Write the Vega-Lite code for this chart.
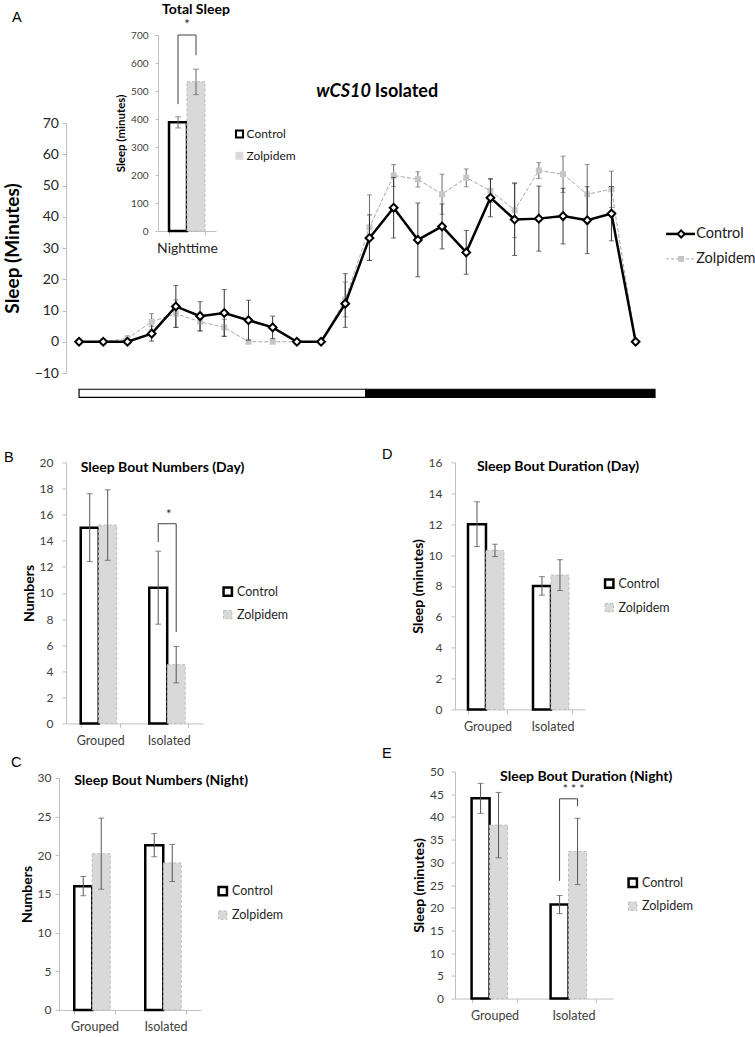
{
 "$schema": "https://vega.github.io/schema/vega-lite/v6.json",
 "background": "white",
 "padding": {"left": 3, "top": 2, "right": 0, "bottom": 0},
 "config": {
  "view": {"stroke": null},
  "font": "Lato",
  "axis": {"grid": false, "labelFont": "Lato", "titleFont": "Lato", "labelColor": "#404040", "titleColor": "#000000", "domainColor": "#bfbfbf", "tickColor": "#bfbfbf", "titleFontWeight": "bold", "labelOverlap": false},
  "legend": {"labelFont": "Lato"},
  "title": {"font": "Liberation Sans", "fontWeight": "normal", "fontSize": 14.5, "color": "#000000", "anchor": "start", "frame": "group", "baseline": "alphabetic"}
 },
 "datasets": {
  "timeline": [
   {"t": 0, "group": "Control", "sleep": 0, "lo": 0, "hi": 0},
   {"t": 1, "group": "Control", "sleep": 0, "lo": 0, "hi": 0},
   {"t": 2, "group": "Control", "sleep": 0, "lo": 0, "hi": 0},
   {"t": 3, "group": "Control", "sleep": 2.6, "lo": 0.2, "hi": 5.0},
   {"t": 4, "group": "Control", "sleep": 11.3, "lo": 4.6, "hi": 18.0},
   {"t": 5, "group": "Control", "sleep": 8.2, "lo": 3.5, "hi": 12.8},
   {"t": 6, "group": "Control", "sleep": 9.2, "lo": 1.7, "hi": 16.7},
   {"t": 7, "group": "Control", "sleep": 6.9, "lo": 0.5, "hi": 13.3},
   {"t": 8, "group": "Control", "sleep": 4.6, "lo": 1.0, "hi": 8.2},
   {"t": 9, "group": "Control", "sleep": 0, "lo": 0, "hi": 0},
   {"t": 10, "group": "Control", "sleep": 0, "lo": 0, "hi": 0},
   {"t": 11, "group": "Control", "sleep": 12.2, "lo": 4.6, "hi": 21.8},
   {"t": 12, "group": "Control", "sleep": 33.2, "lo": 26.0, "hi": 40.6},
   {"t": 13, "group": "Control", "sleep": 42.9, "lo": 33.2, "hi": 52.6},
   {"t": 14, "group": "Control", "sleep": 32.6, "lo": 20.8, "hi": 44.4},
   {"t": 15, "group": "Control", "sleep": 36.9, "lo": 29.7, "hi": 44.1},
   {"t": 16, "group": "Control", "sleep": 28.6, "lo": 21.6, "hi": 35.6},
   {"t": 17, "group": "Control", "sleep": 46.1, "lo": 40.0, "hi": 52.2},
   {"t": 18, "group": "Control", "sleep": 39.1, "lo": 27.6, "hi": 50.6},
   {"t": 19, "group": "Control", "sleep": 39.4, "lo": 29.0, "hi": 49.8},
   {"t": 20, "group": "Control", "sleep": 40.2, "lo": 31.3, "hi": 49.1},
   {"t": 21, "group": "Control", "sleep": 38.9, "lo": 28.2, "hi": 49.6},
   {"t": 22, "group": "Control", "sleep": 41.0, "lo": 32.3, "hi": 49.7},
   {"t": 23, "group": "Control", "sleep": 0, "lo": 0, "hi": 0},
   {"t": 0, "group": "Zolpidem", "sleep": 0, "lo": 0, "hi": 0},
   {"t": 1, "group": "Zolpidem", "sleep": 0, "lo": 0, "hi": 0},
   {"t": 2, "group": "Zolpidem", "sleep": 1.0, "lo": 0.1, "hi": 1.9},
   {"t": 3, "group": "Zolpidem", "sleep": 6.4, "lo": 3.8, "hi": 9.0},
   {"t": 4, "group": "Zolpidem", "sleep": 9.0, "lo": 4.6, "hi": 13.4},
   {"t": 5, "group": "Zolpidem", "sleep": 6.4, "lo": 3.4, "hi": 9.4},
   {"t": 6, "group": "Zolpidem", "sleep": 4.6, "lo": 1.8, "hi": 7.2},
   {"t": 7, "group": "Zolpidem", "sleep": 0, "lo": 0, "hi": 0},
   {"t": 8, "group": "Zolpidem", "sleep": 0, "lo": 0, "hi": 0},
   {"t": 9, "group": "Zolpidem", "sleep": 0, "lo": 0, "hi": 0},
   {"t": 10, "group": "Zolpidem", "sleep": 0, "lo": 0, "hi": 0},
   {"t": 11, "group": "Zolpidem", "sleep": 13.5, "lo": 8.0, "hi": 19.1},
   {"t": 12, "group": "Zolpidem", "sleep": 36.6, "lo": 26.1, "hi": 47.0},
   {"t": 13, "group": "Zolpidem", "sleep": 53.2, "lo": 49.7, "hi": 56.7},
   {"t": 14, "group": "Zolpidem", "sleep": 52.0, "lo": 49.5, "hi": 54.4},
   {"t": 15, "group": "Zolpidem", "sleep": 47.2, "lo": 40.8, "hi": 53.6},
   {"t": 16, "group": "Zolpidem", "sleep": 52.5, "lo": 49.6, "hi": 55.3},
   {"t": 17, "group": "Zolpidem", "sleep": 48.3, "lo": 44.6, "hi": 52.0},
   {"t": 18, "group": "Zolpidem", "sleep": 42.1, "lo": 33.3, "hi": 50.9},
   {"t": 19, "group": "Zolpidem", "sleep": 54.8, "lo": 52.3, "hi": 57.3},
   {"t": 20, "group": "Zolpidem", "sleep": 53.6, "lo": 47.8, "hi": 59.4},
   {"t": 21, "group": "Zolpidem", "sleep": 47.2, "lo": 37.7, "hi": 56.7},
   {"t": 22, "group": "Zolpidem", "sleep": 48.8, "lo": 43.0, "hi": 54.6},
   {"t": 23, "group": "Zolpidem", "sleep": 0, "lo": 0, "hi": 0}
  ]
 },
 "resolve": {"scale": {"fill": "independent", "stroke": "independent", "strokeDash": "independent", "strokeWidth": "independent"}, "legend": {"fill": "independent", "stroke": "independent", "strokeDash": "independent", "strokeWidth": "independent"}},
 "vconcat": [
  {
   "width": 589, "height": 338,
   "title": {"text": "A", "dx": -54, "offset": -22.4},
   "resolve": {"scale": {"x": "independent", "y": "independent"}, "axis": {"x": "independent", "y": "independent"}},
   "layer": [
    {
     "data": {"name": "timeline"},
     "layer": [
      {
       "transform": [{"filter": "datum.group === 'Zolpidem'"}],
       "mark": {"type": "rule", "color": "#6b6b6b", "strokeWidth": 1},
       "encoding": {
        "x": {"field": "t", "type": "quantitative", "scale": {"domain": [-0.54, 23.8], "nice": false, "zero": false}, "axis": null},
        "y": {"field": "lo", "type": "quantitative", "scale": {"domain": [-10, 70], "range": [338, 88], "nice": false, "zero": false},
              "axis": {"orient": "left", "values": [-10, 0, 10, 20, 30, 40, 50, 60, 70], "format": "d", "tickCount": 30, "title": "Sleep (Minutes)", "titleFontSize": 19, "titlePadding": 12, "labelFontSize": 14, "labelPadding": 3.5, "tickSize": 4, "labelColor": "#262626", "labelOverlap": false}},
        "y2": {"field": "hi"}
       }
      },
      {
       "transform": [{"filter": "datum.group === 'Zolpidem'"}, {"fold": ["lo", "hi"], "as": ["end", "ev"]}],
       "mark": {"type": "tick", "orient": "horizontal", "size": 5, "thickness": 1, "color": "#6b6b6b"},
       "encoding": {"x": {"field": "t", "type": "quantitative"}, "y": {"field": "ev", "type": "quantitative"}}
      },
      {
       "transform": [{"filter": "datum.group === 'Zolpidem'"}],
       "mark": {"type": "line", "color": "#a8a8a8", "strokeWidth": 1, "strokeDash": [4, 2]},
       "encoding": {"x": {"field": "t", "type": "quantitative"}, "y": {"field": "sleep", "type": "quantitative"}}
      },
      {
       "transform": [{"filter": "datum.group === 'Zolpidem'"}],
       "mark": {"type": "point", "shape": "square", "filled": true, "fill": "#c6c6c6", "size": 36, "opacity": 1, "strokeWidth": 0},
       "encoding": {"x": {"field": "t", "type": "quantitative"}, "y": {"field": "sleep", "type": "quantitative"}}
      },
      {
       "transform": [{"filter": "datum.group === 'Control'"}],
       "mark": {"type": "rule", "color": "#333333", "strokeWidth": 1},
       "encoding": {"x": {"field": "t", "type": "quantitative"}, "y": {"field": "lo", "type": "quantitative"}, "y2": {"field": "hi"}}
      },
      {
       "transform": [{"filter": "datum.group === 'Control'"}, {"fold": ["lo", "hi"], "as": ["end", "ev"]}],
       "mark": {"type": "tick", "orient": "horizontal", "size": 5, "thickness": 1, "color": "#333333"},
       "encoding": {"x": {"field": "t", "type": "quantitative"}, "y": {"field": "ev", "type": "quantitative"}}
      },
      {
       "transform": [{"filter": "datum.group === 'Control'"}],
       "mark": {"type": "line", "color": "#000000", "strokeWidth": 2.5},
       "encoding": {"x": {"field": "t", "type": "quantitative"}, "y": {"field": "sleep", "type": "quantitative"}}
      },
      {
       "transform": [{"filter": "datum.group === 'Control'"}],
       "mark": {"type": "point", "shape": "diamond", "filled": true, "fill": "#ffffff", "stroke": "#000000", "strokeWidth": 2, "size": 60, "opacity": 1},
       "encoding": {"x": {"field": "t", "type": "quantitative"}, "y": {"field": "sleep", "type": "quantitative"}}
      },
      {
       "data": {"values": [{"phase": "Light", "start": 0, "end": 11.85}]},
       "mark": {"type": "rect", "fill": "#ffffff", "stroke": "#000000", "strokeWidth": 1.2},
       "encoding": {"x": {"field": "start", "type": "quantitative"}, "x2": {"field": "end"}, "y": {"datum": -15.2, "type": "quantitative"}, "y2": {"datum": -17.8}}
      },
      {
       "data": {"values": [{"phase": "Dark", "start": 11.85, "end": 23.8}]},
       "mark": {"type": "rect", "fill": "#000000", "stroke": "#000000", "strokeWidth": 1.2},
       "encoding": {"x": {"field": "start", "type": "quantitative"}, "x2": {"field": "end"}, "y": {"datum": -15.2, "type": "quantitative"}, "y2": {"datum": -17.8}}
      },
      {
       "data": {"values": [{}]},
       "mark": {"type": "text", "text": "wCS10", "font": "Lato", "fontSize": 18, "fontWeight": "bold", "fontStyle": "italic", "align": "right", "baseline": "middle", "dx": -1, "color": "#000000"},
       "encoding": {"x": {"datum": 12.1, "type": "quantitative"}, "y": {"datum": 80, "type": "quantitative"}}
      },
      {
       "data": {"values": [{}]},
       "mark": {"type": "text", "text": "Isolated", "font": "Lato", "fontSize": 18, "fontWeight": "bold", "align": "left", "baseline": "middle", "dx": 3, "color": "#000000"},
       "encoding": {"x": {"datum": 12.1, "type": "quantitative"}, "y": {"datum": 80, "type": "quantitative"}}
      },
      {
       "data": {"values": [{}]},
       "mark": {"type": "rule", "color": "#000000", "strokeWidth": 2.5},
       "encoding": {"x": {"datum": 24.26, "type": "quantitative"}, "x2": {"datum": 25.45}, "y": {"datum": 34.5, "type": "quantitative"}}
      },
      {
       "data": {"values": [{}]},
       "mark": {"type": "point", "shape": "diamond", "filled": true, "fill": "#ffffff", "stroke": "#000000", "strokeWidth": 2, "size": 50, "opacity": 1},
       "encoding": {"x": {"datum": 24.88, "type": "quantitative"}, "y": {"datum": 34.5, "type": "quantitative"}}
      },
      {
       "data": {"values": [{}]},
       "mark": {"type": "text", "text": "Control", "font": "Lato", "fontSize": 14.5, "align": "left", "baseline": "middle", "color": "#1a1a1a"},
       "encoding": {"x": {"datum": 25.5, "type": "quantitative"}, "y": {"datum": 34.5, "type": "quantitative"}}
      },
      {
       "data": {"values": [{}]},
       "mark": {"type": "rule", "color": "#a8a8a8", "strokeWidth": 1, "strokeDash": [3, 2]},
       "encoding": {"x": {"datum": 24.26, "type": "quantitative"}, "x2": {"datum": 25.45}, "y": {"datum": 26.5, "type": "quantitative"}}
      },
      {
       "data": {"values": [{}]},
       "mark": {"type": "point", "shape": "square", "filled": true, "fill": "#c6c6c6", "size": 36, "opacity": 1, "strokeWidth": 0},
       "encoding": {"x": {"datum": 24.88, "type": "quantitative"}, "y": {"datum": 26.5, "type": "quantitative"}}
      },
      {
       "data": {"values": [{}]},
       "mark": {"type": "text", "text": "Zolpidem", "font": "Lato", "fontSize": 14.5, "align": "left", "baseline": "middle", "color": "#1a1a1a"},
       "encoding": {"x": {"datum": 25.5, "type": "quantitative"}, "y": {"datum": 26.5, "type": "quantitative"}}
      },
      {
       "data": {"values": [{}]},
       "mark": {"type": "point", "shape": "square", "filled": true, "fill": "#ffffff", "stroke": "#000000", "strokeWidth": 2, "size": 50, "opacity": 1},
       "encoding": {"x": {"datum": 6.63, "type": "quantitative"}, "y": {"datum": 66.5, "type": "quantitative"}}
      },
      {
       "data": {"values": [{}]},
       "mark": {"type": "point", "shape": "square", "filled": true, "fill": "#d9d9d9", "size": 64, "opacity": 1, "strokeWidth": 0},
       "encoding": {"x": {"datum": 6.63, "type": "quantitative"}, "y": {"datum": 59.5, "type": "quantitative"}}
      },
      {
       "data": {"values": [{}]},
       "mark": {"type": "text", "text": "Control", "font": "Lato", "fontSize": 12, "align": "left", "baseline": "middle", "color": "#1a1a1a"},
       "encoding": {"x": {"datum": 6.92, "type": "quantitative"}, "y": {"datum": 66.5, "type": "quantitative"}}
      },
      {
       "data": {"values": [{}]},
       "mark": {"type": "text", "text": "Zolpidem", "font": "Lato", "fontSize": 12, "align": "left", "baseline": "middle", "color": "#1a1a1a"},
       "encoding": {"x": {"datum": 6.92, "type": "quantitative"}, "y": {"datum": 59.5, "type": "quantitative"}}
      },
      {
       "data": {"values": [{}]},
       "mark": {"type": "text", "text": "Total Sleep", "font": "Lato", "fontSize": 14, "fontWeight": "bold", "align": "center", "baseline": "middle", "color": "#000000"},
       "encoding": {"x": {"datum": 4.83, "type": "quantitative"}, "y": {"datum": 106.2, "type": "quantitative"}}
      }
     ]
    },
    {
     "data": {"values": [
      {"period": "Nighttime", "group": "Control", "sleep": 388, "lo": 368, "hi": 408},
      {"period": "Nighttime", "group": "Zolpidem", "sleep": 533, "lo": 487, "hi": 578}
     ]},
     "layer": [
      {
       "transform": [{"filter": "datum.group === 'Control'"}],
       "mark": {"type": "bar", "fill": "#ffffff", "stroke": "#000000", "strokeWidth": 2.5},
       "encoding": {
        "x": {"field": "period", "type": "nominal", "scale": {"range": [92, 150], "paddingInner": 0.38, "paddingOuter": 0.19},
              "axis": {"orient": "bottom", "offset": -142, "title": null, "tickBand": "extent", "labelAngle": 0, "labelFontSize": 14, "labelPadding": 6, "tickSize": 4, "labelColor": "#262626"}},
        "xOffset": {"field": "group", "type": "nominal", "scale": {"domain": ["Control", "Zolpidem"]}},
        "y": {"field": "sleep", "type": "quantitative", "scale": {"domain": [0, 700], "range": [196, 0], "nice": false},
              "axis": {"orient": "left", "offset": -92, "values": [0, 100, 200, 300, 400, 500, 600, 700], "format": "d", "tickCount": 30, "title": "Sleep (minutes)", "titleFontSize": 11.5, "titlePadding": 4, "labelFontSize": 10, "labelPadding": 7, "tickSize": 3, "labelOverlap": false}}
       }
      },
      {
       "transform": [{"filter": "datum.group === 'Zolpidem'"}],
       "mark": {"type": "bar", "fill": "#d9d9d9", "stroke": "#bdbdbd", "strokeWidth": 1, "strokeDash": [3, 2]},
       "encoding": {
        "x": {"field": "period", "type": "nominal"},
        "xOffset": {"field": "group", "type": "nominal"},
        "y": {"field": "sleep", "type": "quantitative"}
       }
      },
      {
       "mark": {"type": "rule", "color": "#666666", "strokeWidth": 1},
       "encoding": {
        "x": {"field": "period", "type": "nominal"},
        "xOffset": {"field": "group", "type": "nominal"},
        "y": {"field": "lo", "type": "quantitative"}, "y2": {"field": "hi"}
       }
      },
      {
       "transform": [{"fold": ["lo", "hi"], "as": ["end", "ev"]}],
       "mark": {"type": "tick", "orient": "horizontal", "size": 6, "thickness": 1, "color": "#666666"},
       "encoding": {
        "x": {"field": "period", "type": "nominal"},
        "xOffset": {"field": "group", "type": "nominal"},
        "y": {"field": "ev", "type": "quantitative"}
       }
      },
      {
       "data": {"values": [
        {"period": "Nighttime", "group": "Control", "y": 453, "k": 1},
        {"period": "Nighttime", "group": "Control", "y": 700, "k": 2},
        {"period": "Nighttime", "group": "Zolpidem", "y": 700, "k": 3},
        {"period": "Nighttime", "group": "Zolpidem", "y": 628, "k": 4}
       ]},
       "mark": {"type": "line", "color": "#404040", "strokeWidth": 1},
       "encoding": {
        "x": {"field": "period", "type": "nominal"},
        "xOffset": {"field": "group", "type": "nominal"},
        "y": {"field": "y", "type": "quantitative"},
        "order": {"field": "k", "type": "quantitative"}
       }
      },
      {
       "data": {"values": [{"period": "Nighttime"}]},
       "mark": {"type": "text", "text": "*", "font": "Lato", "fontSize": 13, "baseline": "middle", "color": "#262626"},
       "encoding": {
        "x": {"field": "period", "type": "nominal"},
        "y": {"datum": 735, "type": "quantitative"}
       }
      }
     ]
    }
   ]
  },
  {
   "resolve": {"scale": {"fill": "independent", "stroke": "independent", "strokeDash": "independent", "strokeWidth": "independent"}, "legend": {"fill": "independent", "stroke": "independent", "strokeDash": "independent", "strokeWidth": "independent"}},
   "hconcat": [
    {
     "columns": 1,
     "align": "none",
     "resolve": {"scale": {"fill": "independent", "stroke": "independent", "strokeDash": "independent", "strokeWidth": "independent"}, "legend": {"fill": "independent", "stroke": "independent", "strokeDash": "independent", "strokeWidth": "independent"}},
     "concat": [
      {
       "width": 137, "height": 261,
       "title": {"text": "B", "dx": -62, "offset": -8.65},
       "data": {"values": [
        {"cond": "Grouped", "group": "Control", "v": 15.0, "lo": 12.4, "hi": 17.6},
        {"cond": "Grouped", "group": "Zolpidem", "v": 15.2, "lo": 12.5, "hi": 17.9},
        {"cond": "Isolated", "group": "Control", "v": 10.4, "lo": 7.6, "hi": 13.2},
        {"cond": "Isolated", "group": "Zolpidem", "v": 4.5, "lo": 3.1, "hi": 5.9}
       ]},
       "layer": [
        {
         "mark": {"type": "bar"},
         "encoding": {
          "x": {"field": "cond", "type": "nominal", "sort": ["Grouped", "Isolated"], "scale": {"paddingInner": 0.43, "paddingOuter": 0.215}, "axis": {"title": null, "tickBand": "extent", "labelAngle": 0, "labelFontSize": 12.5, "labelPadding": 7, "tickSize": 4}},
          "xOffset": {"field": "group", "type": "nominal", "scale": {"domain": ["Control", "Zolpidem"]}},
          "y": {"field": "v", "type": "quantitative", "scale": {"domain": [0, 20], "nice": false}, "axis": {"title": "Numbers", "values": [0, 2, 4, 6, 8, 10, 12, 14, 16, 18, 20], "format": "d", "tickCount": 30, "labelOverlap": false, "labelFontSize": 12, "labelPadding": 9, "tickSize": 4, "titleFontSize": 14, "titlePadding": 3}},
          "fill": {"field": "group", "type": "nominal", "scale": {"domain": ["Control", "Zolpidem"], "range": ["#ffffff", "#d9d9d9"]}, "legend": {"orient": "none", "legendX": 155.5, "legendY": 123, "title": null, "symbolType": "square", "symbolSize": 70, "labelFontSize": 12.5, "labelColor": "#262626", "rowPadding": 7, "labelOffset": 3, "padding": 0}},
          "stroke": {"field": "group", "type": "nominal", "scale": {"domain": ["Control", "Zolpidem"], "range": ["#000000", "#bdbdbd"]}, "legend": {"orient": "none", "legendX": 155.5, "legendY": 123, "title": null, "symbolType": "square", "symbolSize": 70, "labelFontSize": 12.5, "labelColor": "#262626", "rowPadding": 7, "labelOffset": 3, "padding": 0}},
          "strokeDash": {"field": "group", "type": "nominal", "scale": {"domain": ["Control", "Zolpidem"], "range": [[1, 0], [3, 2]]}, "legend": {"orient": "none", "legendX": 155.5, "legendY": 123, "title": null, "symbolType": "square", "symbolSize": 70, "labelFontSize": 12.5, "labelColor": "#262626", "rowPadding": 7, "labelOffset": 3, "padding": 0}},
          "strokeWidth": {"field": "group", "type": "nominal", "scale": {"domain": ["Control", "Zolpidem"], "range": [2.5, 1]}, "legend": {"orient": "none", "legendX": 155.5, "legendY": 123, "title": null, "symbolType": "square", "symbolSize": 70, "labelFontSize": 12.5, "labelColor": "#262626", "rowPadding": 7, "labelOffset": 3, "padding": 0}}
         }
        },
        {
         "mark": {"type": "rule", "color": "#555555", "strokeWidth": 1},
         "encoding": {"x": {"field": "cond", "type": "nominal"}, "xOffset": {"field": "group", "type": "nominal"}, "y": {"field": "lo", "type": "quantitative"}, "y2": {"field": "hi"}}
        },
        {
         "transform": [{"fold": ["lo", "hi"], "as": ["end", "ev"]}],
         "mark": {"type": "tick", "orient": "horizontal", "size": 6, "thickness": 1, "color": "#555555"},
         "encoding": {"x": {"field": "cond", "type": "nominal"}, "xOffset": {"field": "group", "type": "nominal"}, "y": {"field": "ev", "type": "quantitative"}}
        },
        {
         "data": {"values": [{}]},
         "mark": {"type": "text", "text": "Sleep Bout Numbers (Day)", "align": "left", "baseline": "middle", "font": "Lato", "fontSize": 14, "fontWeight": "bold", "color": "#000000"},
         "encoding": {"x": {"datum": "Grouped", "type": "nominal", "bandPosition": 0}, "y": {"datum": 19.54, "type": "quantitative"}}
        },
        {
         "data": {"values": [
          {"cond": "Isolated", "group": "Control", "y": 13.9, "k": 1},
          {"cond": "Isolated", "group": "Control", "y": 15.3, "k": 2},
          {"cond": "Isolated", "group": "Zolpidem", "y": 15.3, "k": 3},
          {"cond": "Isolated", "group": "Zolpidem", "y": 7.0, "k": 4}
         ]},
         "mark": {"type": "line", "color": "#404040", "strokeWidth": 1},
         "encoding": {"x": {"field": "cond", "type": "nominal"}, "xOffset": {"field": "group", "type": "nominal"}, "y": {"field": "y", "type": "quantitative"}, "order": {"field": "k", "type": "quantitative"}}
        },
        {
         "data": {"values": [{"cond": "Isolated"}]},
         "mark": {"type": "text", "text": "*", "font": "Lato", "fontSize": 13, "baseline": "middle", "color": "#262626"},
         "encoding": {"x": {"field": "cond", "type": "nominal"}, "y": {"datum": 16.0, "type": "quantitative"}}
        }
       ]
      },
      {
       "width": 142, "height": 232,
       "title": {"text": "C", "dx": -55, "offset": 1.35},
       "data": {"values": [
        {"cond": "Grouped", "group": "Control", "v": 16.0, "lo": 14.75, "hi": 17.25},
        {"cond": "Grouped", "group": "Zolpidem", "v": 20.2, "lo": 15.6, "hi": 24.8},
        {"cond": "Isolated", "group": "Control", "v": 21.3, "lo": 19.8, "hi": 22.8},
        {"cond": "Isolated", "group": "Zolpidem", "v": 19.0, "lo": 16.6, "hi": 21.4}
       ]},
       "layer": [
        {
         "mark": {"type": "bar"},
         "encoding": {
          "x": {"field": "cond", "type": "nominal", "sort": ["Grouped", "Isolated"], "scale": {"range": [-7, 135], "paddingInner": 0.43, "paddingOuter": 0.215}, "axis": {"title": null, "tickBand": "extent", "labelAngle": 0, "labelFontSize": 12.5, "labelPadding": 7, "tickSize": 4}},
          "xOffset": {"field": "group", "type": "nominal", "scale": {"domain": ["Control", "Zolpidem"]}},
          "y": {"field": "v", "type": "quantitative", "scale": {"domain": [0, 30], "nice": false}, "axis": {"title": "Numbers", "offset": 7, "values": [0, 5, 10, 15, 20, 25, 30], "format": "d", "tickCount": 30, "labelOverlap": false, "labelFontSize": 12, "labelPadding": 4, "tickSize": 4, "titleFontSize": 14, "titlePadding": 3}},
          "fill": {"field": "group", "type": "nominal", "scale": {"domain": ["Control", "Zolpidem"], "range": ["#ffffff", "#d9d9d9"]}, "legend": {"orient": "none", "legendX": 150.5, "legendY": 107, "title": null, "symbolType": "square", "symbolSize": 70, "labelFontSize": 12.5, "labelColor": "#262626", "rowPadding": 8, "labelOffset": 3, "padding": 0}},
          "stroke": {"field": "group", "type": "nominal", "scale": {"domain": ["Control", "Zolpidem"], "range": ["#000000", "#bdbdbd"]}, "legend": {"orient": "none", "legendX": 150.5, "legendY": 107, "title": null, "symbolType": "square", "symbolSize": 70, "labelFontSize": 12.5, "labelColor": "#262626", "rowPadding": 8, "labelOffset": 3, "padding": 0}},
          "strokeDash": {"field": "group", "type": "nominal", "scale": {"domain": ["Control", "Zolpidem"], "range": [[1, 0], [3, 2]]}, "legend": {"orient": "none", "legendX": 150.5, "legendY": 107, "title": null, "symbolType": "square", "symbolSize": 70, "labelFontSize": 12.5, "labelColor": "#262626", "rowPadding": 8, "labelOffset": 3, "padding": 0}},
          "strokeWidth": {"field": "group", "type": "nominal", "scale": {"domain": ["Control", "Zolpidem"], "range": [2.5, 1]}, "legend": {"orient": "none", "legendX": 150.5, "legendY": 107, "title": null, "symbolType": "square", "symbolSize": 70, "labelFontSize": 12.5, "labelColor": "#262626", "rowPadding": 8, "labelOffset": 3, "padding": 0}}
         }
        },
        {
         "mark": {"type": "rule", "color": "#555555", "strokeWidth": 1},
         "encoding": {"x": {"field": "cond", "type": "nominal"}, "xOffset": {"field": "group", "type": "nominal"}, "y": {"field": "lo", "type": "quantitative"}, "y2": {"field": "hi"}}
        },
        {
         "transform": [{"fold": ["lo", "hi"], "as": ["end", "ev"]}],
         "mark": {"type": "tick", "orient": "horizontal", "size": 6, "thickness": 1, "color": "#555555"},
         "encoding": {"x": {"field": "cond", "type": "nominal"}, "xOffset": {"field": "group", "type": "nominal"}, "y": {"field": "ev", "type": "quantitative"}}
        },
        {
         "data": {"values": [{}]},
         "mark": {"type": "text", "text": "Sleep Bout Numbers (Night)", "align": "left", "baseline": "middle", "font": "Lato", "fontSize": 14, "fontWeight": "bold", "color": "#000000"},
         "encoding": {"x": {"datum": "Grouped", "type": "nominal", "bandPosition": 0}, "y": {"datum": 29.6, "type": "quantitative"}}
        }
       ]
      }
     ],
     "spacing": 7.5
    },
    {
     "columns": 1,
     "align": "none",
     "resolve": {"scale": {"fill": "independent", "stroke": "independent", "strokeDash": "independent", "strokeWidth": "independent"}, "legend": {"fill": "independent", "stroke": "independent", "strokeDash": "independent", "strokeWidth": "independent"}},
     "concat": [
      {
       "width": 130, "height": 247,
       "title": {"text": "D", "dx": -73, "offset": -5.65},
       "data": {"values": [
        {"cond": "Grouped", "group": "Control", "v": 12.0, "lo": 10.55, "hi": 13.45},
        {"cond": "Grouped", "group": "Zolpidem", "v": 10.3, "lo": 9.9, "hi": 10.7},
        {"cond": "Isolated", "group": "Control", "v": 8.0, "lo": 7.4, "hi": 8.6},
        {"cond": "Isolated", "group": "Zolpidem", "v": 8.7, "lo": 7.7, "hi": 9.7}
       ]},
       "layer": [
        {
         "mark": {"type": "bar"},
         "encoding": {
          "x": {"field": "cond", "type": "nominal", "sort": ["Grouped", "Isolated"], "scale": {"paddingInner": 0.4, "paddingOuter": 0.2}, "axis": {"title": null, "tickBand": "extent", "labelAngle": 0, "labelFontSize": 12.5, "labelPadding": 7, "tickSize": 4}},
          "xOffset": {"field": "group", "type": "nominal", "scale": {"domain": ["Control", "Zolpidem"]}},
          "y": {"field": "v", "type": "quantitative", "scale": {"domain": [0, 16], "nice": false}, "axis": {"title": "Sleep (minutes)", "values": [0, 2, 4, 6, 8, 10, 12, 14, 16], "format": "d", "tickCount": 30, "labelOverlap": false, "labelFontSize": 12, "labelPadding": 9, "tickSize": 4, "titleFontSize": 14, "titlePadding": 3}},
          "fill": {"field": "group", "type": "nominal", "scale": {"domain": ["Control", "Zolpidem"], "range": ["#ffffff", "#d9d9d9"]}, "legend": {"orient": "none", "legendX": 148, "legendY": 115, "title": null, "symbolType": "square", "symbolSize": 70, "labelFontSize": 12.5, "labelColor": "#262626", "rowPadding": 8, "labelOffset": 3, "padding": 0}},
          "stroke": {"field": "group", "type": "nominal", "scale": {"domain": ["Control", "Zolpidem"], "range": ["#000000", "#bdbdbd"]}, "legend": {"orient": "none", "legendX": 148, "legendY": 115, "title": null, "symbolType": "square", "symbolSize": 70, "labelFontSize": 12.5, "labelColor": "#262626", "rowPadding": 8, "labelOffset": 3, "padding": 0}},
          "strokeDash": {"field": "group", "type": "nominal", "scale": {"domain": ["Control", "Zolpidem"], "range": [[1, 0], [3, 2]]}, "legend": {"orient": "none", "legendX": 148, "legendY": 115, "title": null, "symbolType": "square", "symbolSize": 70, "labelFontSize": 12.5, "labelColor": "#262626", "rowPadding": 8, "labelOffset": 3, "padding": 0}},
          "strokeWidth": {"field": "group", "type": "nominal", "scale": {"domain": ["Control", "Zolpidem"], "range": [2.5, 1]}, "legend": {"orient": "none", "legendX": 148, "legendY": 115, "title": null, "symbolType": "square", "symbolSize": 70, "labelFontSize": 12.5, "labelColor": "#262626", "rowPadding": 8, "labelOffset": 3, "padding": 0}}
         }
        },
        {
         "mark": {"type": "rule", "color": "#555555", "strokeWidth": 1},
         "encoding": {"x": {"field": "cond", "type": "nominal"}, "xOffset": {"field": "group", "type": "nominal"}, "y": {"field": "lo", "type": "quantitative"}, "y2": {"field": "hi"}}
        },
        {
         "transform": [{"fold": ["lo", "hi"], "as": ["end", "ev"]}],
         "mark": {"type": "tick", "orient": "horizontal", "size": 6, "thickness": 1, "color": "#555555"},
         "encoding": {"x": {"field": "cond", "type": "nominal"}, "xOffset": {"field": "group", "type": "nominal"}, "y": {"field": "ev", "type": "quantitative"}}
        },
        {
         "data": {"values": [{}]},
         "mark": {"type": "text", "text": "Sleep Bout Duration (Day)", "align": "left", "baseline": "middle", "dx": 9, "font": "Lato", "fontSize": 14, "fontWeight": "bold", "color": "#000000"},
         "encoding": {"x": {"datum": "Grouped", "type": "nominal", "bandPosition": 0}, "y": {"datum": 15.67, "type": "quantitative"}}
        }
       ]
      },
      {
       "width": 158, "height": 227,
       "data": {"values": [
        {"cond": "Grouped", "group": "Control", "v": 44.1, "lo": 40.8, "hi": 47.4},
        {"cond": "Grouped", "group": "Zolpidem", "v": 38.2, "lo": 31.0, "hi": 45.4},
        {"cond": "Isolated", "group": "Control", "v": 20.7, "lo": 18.7, "hi": 22.7},
        {"cond": "Isolated", "group": "Zolpidem", "v": 32.4, "lo": 25.1, "hi": 39.7}
       ]},
       "layer": [
        {
         "mark": {"type": "bar"},
         "encoding": {
          "x": {"field": "cond", "type": "nominal", "sort": ["Grouped", "Isolated"], "scale": {"paddingInner": 0.42, "paddingOuter": 0.21}, "axis": {"title": null, "tickBand": "extent", "labelAngle": 0, "labelFontSize": 12.5, "labelPadding": 7, "tickSize": 4}},
          "xOffset": {"field": "group", "type": "nominal", "scale": {"domain": ["Control", "Zolpidem"]}},
          "y": {"field": "v", "type": "quantitative", "scale": {"domain": [0, 50], "nice": false}, "axis": {"title": "Sleep (minutes)", "values": [0, 5, 10, 15, 20, 25, 30, 35, 40, 45, 50], "format": "d", "tickCount": 30, "labelOverlap": false, "labelFontSize": 12, "labelPadding": 7.5, "tickSize": 4, "titleFontSize": 14, "titlePadding": 3}},
          "fill": {"field": "group", "type": "nominal", "scale": {"domain": ["Control", "Zolpidem"], "range": ["#ffffff", "#d9d9d9"]}, "legend": {"orient": "none", "legendX": 171.5, "legendY": 105, "title": null, "symbolType": "square", "symbolSize": 70, "labelFontSize": 12.5, "labelColor": "#262626", "rowPadding": 7.5, "labelOffset": 3, "padding": 0}},
          "stroke": {"field": "group", "type": "nominal", "scale": {"domain": ["Control", "Zolpidem"], "range": ["#000000", "#bdbdbd"]}, "legend": {"orient": "none", "legendX": 171.5, "legendY": 105, "title": null, "symbolType": "square", "symbolSize": 70, "labelFontSize": 12.5, "labelColor": "#262626", "rowPadding": 7.5, "labelOffset": 3, "padding": 0}},
          "strokeDash": {"field": "group", "type": "nominal", "scale": {"domain": ["Control", "Zolpidem"], "range": [[1, 0], [3, 2]]}, "legend": {"orient": "none", "legendX": 171.5, "legendY": 105, "title": null, "symbolType": "square", "symbolSize": 70, "labelFontSize": 12.5, "labelColor": "#262626", "rowPadding": 7.5, "labelOffset": 3, "padding": 0}},
          "strokeWidth": {"field": "group", "type": "nominal", "scale": {"domain": ["Control", "Zolpidem"], "range": [2.5, 1]}, "legend": {"orient": "none", "legendX": 171.5, "legendY": 105, "title": null, "symbolType": "square", "symbolSize": 70, "labelFontSize": 12.5, "labelColor": "#262626", "rowPadding": 7.5, "labelOffset": 3, "padding": 0}}
         }
        },
        {
         "mark": {"type": "rule", "color": "#555555", "strokeWidth": 1},
         "encoding": {"x": {"field": "cond", "type": "nominal"}, "xOffset": {"field": "group", "type": "nominal"}, "y": {"field": "lo", "type": "quantitative"}, "y2": {"field": "hi"}}
        },
        {
         "transform": [{"fold": ["lo", "hi"], "as": ["end", "ev"]}],
         "mark": {"type": "tick", "orient": "horizontal", "size": 6, "thickness": 1, "color": "#555555"},
         "encoding": {"x": {"field": "cond", "type": "nominal"}, "xOffset": {"field": "group", "type": "nominal"}, "y": {"field": "ev", "type": "quantitative"}}
        },
        {
         "data": {"values": [{}]},
         "mark": {"type": "text", "text": "E", "align": "left", "baseline": "middle", "dx": -89.5, "font": "Liberation Sans", "fontSize": 14.5, "color": "#000000"},
         "encoding": {"x": {"datum": "Grouped", "type": "nominal", "bandPosition": 0}, "y": {"datum": 53.9, "type": "quantitative"}}
        },
        {
         "data": {"values": [{}]},
         "mark": {"type": "text", "text": "Sleep Bout Duration (Night)", "align": "left", "baseline": "middle", "dx": 28.5, "font": "Lato", "fontSize": 14, "fontWeight": "bold", "color": "#000000"},
         "encoding": {"x": {"datum": "Grouped", "type": "nominal", "bandPosition": 0}, "y": {"datum": 48.7, "type": "quantitative"}}
        },
        {
         "data": {"values": [
          {"cond": "Isolated", "group": "Control", "y": 25.9, "k": 1},
          {"cond": "Isolated", "group": "Control", "y": 44.0, "k": 2},
          {"cond": "Isolated", "group": "Zolpidem", "y": 44.0, "k": 3},
          {"cond": "Isolated", "group": "Zolpidem", "y": 42.4, "k": 4}
         ]},
         "mark": {"type": "line", "color": "#404040", "strokeWidth": 1},
         "encoding": {"x": {"field": "cond", "type": "nominal"}, "xOffset": {"field": "group", "type": "nominal"}, "y": {"field": "y", "type": "quantitative"}, "order": {"field": "k", "type": "quantitative"}}
        },
        {
         "data": {"values": [{"cond": "Isolated"}]},
         "mark": {"type": "text", "text": "* * *", "font": "Lato", "fontSize": 12, "baseline": "middle", "color": "#262626"},
         "encoding": {"x": {"field": "cond", "type": "nominal"}, "y": {"datum": 46.2, "type": "quantitative"}}
        }
       ]
      }
     ],
     "spacing": 12.15
    }
   ],
   "spacing": 93
  }
 ],
 "spacing": 48.4
}
